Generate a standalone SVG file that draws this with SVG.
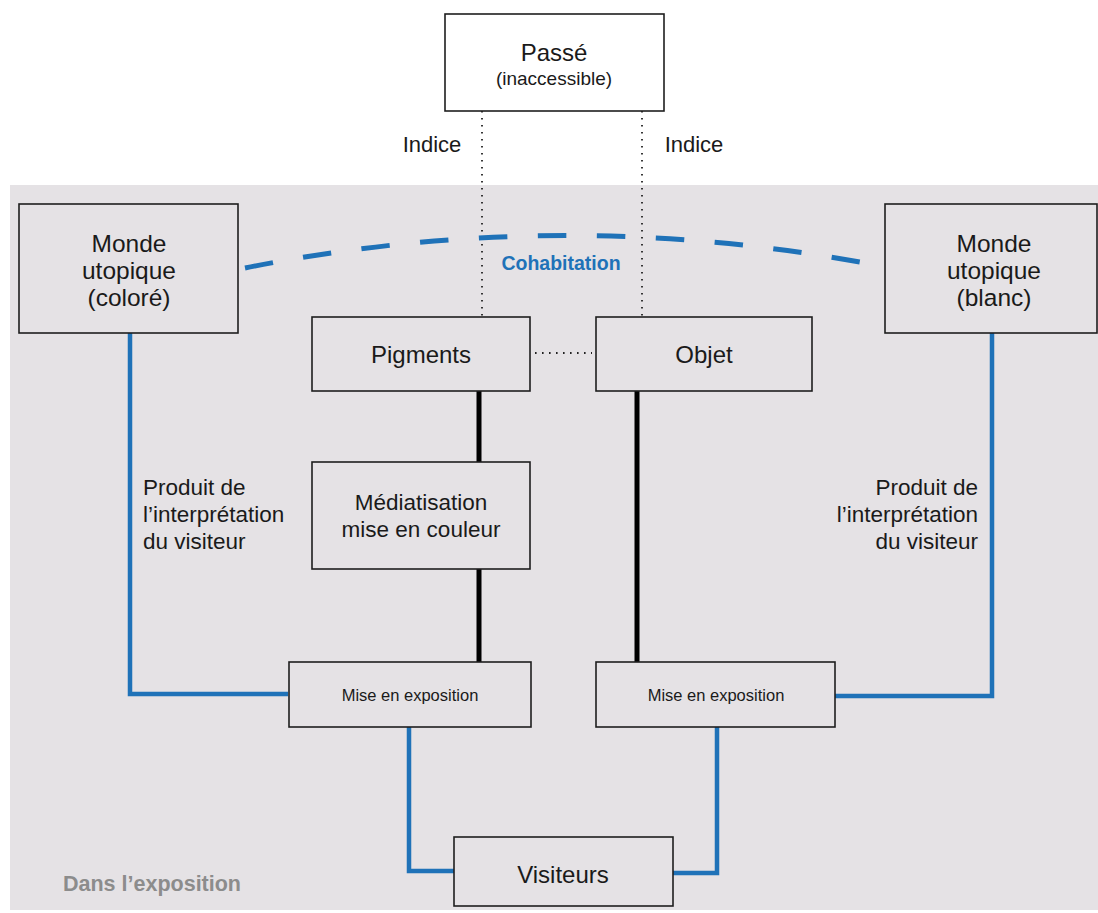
<svg xmlns="http://www.w3.org/2000/svg" width="1098" height="913" viewBox="0 0 1098 913">
<style>
.box{fill:#e5e2e5;stroke:#1e1e1e;stroke-width:1.6}
.t{font-family:"Liberation Sans",Arial,sans-serif;fill:#1a1a1a;text-anchor:middle}
.blue{fill:none;stroke:#1f72b8;stroke-width:4.5}
.black{fill:none;stroke:#000;stroke-width:5}
.dot{fill:none;stroke:#222;stroke-width:1.8;stroke-dasharray:1.6 5.4}
</style>
<rect x="0" y="0" width="1098" height="913" fill="#ffffff"/>
<rect id="zone" x="10" y="185" width="1088" height="725" fill="#e5e2e5"/>
<text class="t" x="63" y="891" style="font-size:21.5px;font-weight:bold;fill:#8c8c8c;text-anchor:start">Dans l’exposition</text>

<g id="connectors">
<path class="dot" d="M482 111 V316"/>
<path class="dot" d="M642 111 V316"/>
<path class="dot" d="M535 353 H592"/>
<path d="M245 268 Q567 203 891 268" fill="none" stroke="#1f72b8" stroke-width="5" stroke-dasharray="28.5 30.5"/>
<path class="black" d="M479 391 V462"/>
<path class="black" d="M479 569 V662"/>
<path class="black" d="M637 391 V662"/>
<path class="blue" d="M130 333 V694 H288"/>
<path class="blue" d="M992 333 V696 H835"/>
<path class="blue" d="M409 727 V871 H454"/>
<path class="blue" d="M717 727 V873 H673"/>
<text class="t" x="432" y="152" style="font-size:22px">Indice</text>
<text class="t" x="694" y="152" style="font-size:22px">Indice</text>
<text class="t" x="561" y="270" style="font-size:19.5px;font-weight:bold;fill:#1f72b8">Cohabitation</text>
<text class="t" x="143" y="495" style="font-size:22.5px;text-anchor:start">Produit de</text>
<text class="t" x="143" y="522" style="font-size:22.5px;text-anchor:start">l’interprétation</text>
<text class="t" x="143" y="549" style="font-size:22.5px;text-anchor:start">du visiteur</text>
<text class="t" x="978" y="495" style="font-size:22.5px;text-anchor:end">Produit de</text>
<text class="t" x="978" y="522" style="font-size:22.5px;text-anchor:end">l’interprétation</text>
<text class="t" x="978" y="549" style="font-size:22.5px;text-anchor:end">du visiteur</text>
</g>

<g id="passe">
<rect x="445" y="14" width="219" height="97" fill="#ffffff" stroke="#1e1e1e" stroke-width="1.6"/>
<text class="t" x="554" y="61" style="font-size:24px">Passé</text>
<text class="t" x="554" y="85" style="font-size:19px">(inaccessible)</text>
</g>

<g id="monde-colore">
<rect class="box" x="19" y="204" width="219" height="129"/>
<text class="t" x="129" y="252" style="font-size:24.5px">Monde</text>
<text class="t" x="129" y="279" style="font-size:24.5px">utopique</text>
<text class="t" x="129" y="306" style="font-size:24.5px">(coloré)</text>
</g>

<g id="monde-blanc">
<rect class="box" x="885" y="204" width="212" height="129"/>
<text class="t" x="994" y="252" style="font-size:24.5px">Monde</text>
<text class="t" x="994" y="279" style="font-size:24.5px">utopique</text>
<text class="t" x="994" y="306" style="font-size:24.5px">(blanc)</text>
</g>

<g id="pigments">
<rect class="box" x="312" y="317" width="218" height="74"/>
<text class="t" x="421" y="363" style="font-size:24px">Pigments</text>
</g>

<g id="objet">
<rect class="box" x="596" y="317" width="216" height="74"/>
<text class="t" x="704" y="363" style="font-size:24px">Objet</text>
</g>

<g id="mediatisation">
<rect class="box" x="312" y="462" width="218" height="107"/>
<text class="t" x="421" y="510" style="font-size:22.5px">Médiatisation</text>
<text class="t" x="421" y="537" style="font-size:22.5px">mise en couleur</text>
</g>

<g id="mise-gauche">
<rect class="box" x="289" y="662" width="242" height="65"/>
<text class="t" x="410" y="701" style="font-size:16.5px">Mise en exposition</text>
</g>

<g id="mise-droite">
<rect class="box" x="596" y="662" width="239" height="65"/>
<text class="t" x="716" y="701" style="font-size:16.5px">Mise en exposition</text>
</g>

<g id="visiteurs">
<rect class="box" x="454" y="837" width="219" height="69"/>
<text class="t" x="563" y="883" style="font-size:24px">Visiteurs</text>
</g>
</svg>
